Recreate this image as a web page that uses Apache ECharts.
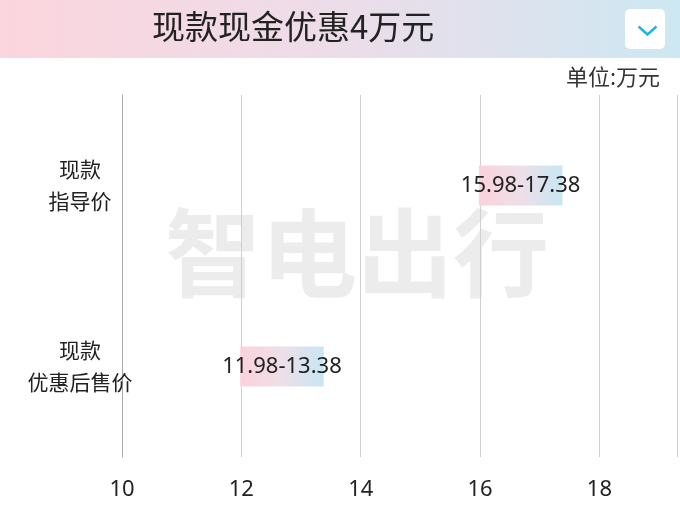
<!DOCTYPE html>
<html><head><meta charset="utf-8">
<script src="https://cdn.jsdelivr.net/npm/echarts@6/dist/echarts.min.js"></script>
<style>html,body{margin:0;padding:0;background:#fff}#c{width:680px;height:510px}</style>
</head><body><div id="c"></div>
<script>
const categories = ['现款\n指导价', '现款\n优惠后售价'];
const lowValues = [15.98, 11.98];
const highValues = [17.38, 13.38];
const xTicks = [10, 12, 14, 16, 18];
const chart = echarts.init(document.getElementById('c'));
const grad = new echarts.graphic.LinearGradient(0,0,1,0,[{offset:0,color:'#fbd3dc'},{offset:0.5,color:'#eedfe8'},{offset:1,color:'#c7e7f3'}]);
chart.setOption({
  animation:false,
  graphic:[
    {type:'rect',left:0,top:0,shape:{width:680,height:58},style:{fill:new echarts.graphic.LinearGradient(0,0,1,0,[{offset:0,color:'#fcd5dd'},{offset:0.5,color:'#ecdde9'},{offset:1,color:'#cde8f2'}])}},
    {type:'text',left:152,top:10,style:{text:'现款现金优惠4万元',font:'33px "Noto Sans CJK SC"',fill:'#222'}},
    {type:'rect',left:625,top:9,shape:{width:40,height:40,r:5},style:{fill:'#fff'}},
    {type:'polyline',left:636,top:24,shape:{points:[[0,0],[9,8],[18,0]]},style:{stroke:'#1fb7e0',lineWidth:2.5,fill:null}},
    {type:'text',right:20,top:66,style:{text:'单位:万元',font:'22px "Noto Sans CJK SC"',fill:'#333'}},
    {type:'text',left:165,top:205,z:0,style:{text:'智电出行',font:'bold 96px "Noto Sans CJK SC"',fill:'rgba(200,200,200,0.35)'}}
  ],
  grid:{left:122,right:0,top:95,bottom:53},
  xAxis:{type:'value',min:10,max:19.3,interval:2,
    axisLabel:{fontSize:22,color:'#222',margin:22,fontFamily:'Noto Sans',formatter:v=>xTicks.includes(v)?String(v):''},
    splitLine:{lineStyle:{color:'#cfcfcf'}},axisLine:{show:false},axisTick:{show:false}},
  yAxis:{type:'category',data:categories,inverse:true,
    axisLine:{show:true,lineStyle:{color:'#aaa'}},axisTick:{show:false},
    axisLabel:{fontSize:21,color:'#222',lineHeight:32,align:'center',margin:42,fontFamily:'Noto Sans CJK SC'}},
  series:[
    {type:'bar',stack:'s',data:lowValues,itemStyle:{color:'transparent'},barWidth:40,silent:true},
    {type:'bar',stack:'s',data:highValues.map((h,i)=>+(h-lowValues[i]).toFixed(2)),barWidth:40,
     itemStyle:{color:grad},
     label:{show:true,position:'inside',color:'#222',fontSize:22,fontFamily:'Noto Sans',
       formatter:p=>lowValues[p.dataIndex].toFixed(2)+'-'+highValues[p.dataIndex].toFixed(2)}}
  ]
});
</script></body></html>
